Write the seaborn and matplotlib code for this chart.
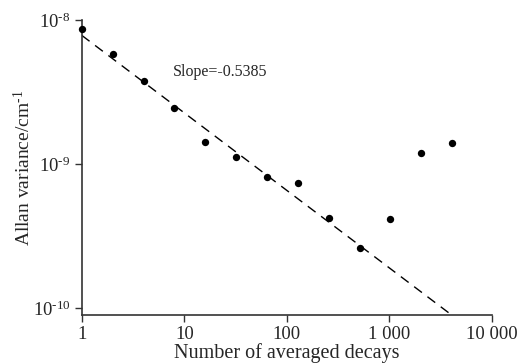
import numpy as np
import pandas as pd
import matplotlib
matplotlib.use("Agg")
import matplotlib.pyplot as plt
import seaborn as sns

# measured Allan variance vs number of averaged decays
n_decays = [1, 2, 4, 8, 16, 32, 64, 128, 256, 512, 1024, 2048, 4096]
allan_var = [8.6e-9, 5.84e-9, 3.79e-9, 2.46e-9, 1.42e-9, 1.11e-9, 8.1e-10,
             7.4e-10, 4.24e-10, 2.62e-10, 4.15e-10, 1.19e-9, 1.39e-9]

# linear fit in log-log space
fit_slope = -0.5385
fit_intercept = 7.82e-9
fit_x = [1, 10000]

x_ticks = [1, 10, 100, 1000, 10000]
x_ticklabels = ["1", "10", "100", "1 000", "10 000"]
y_ticks = [1e-10, 1e-9, 1e-8]
y_ticklabels = [r"10$^{\text{-}10}$", r"10$^{\text{-}9}$", r"10$^{\text{-}8}$"]

sns.set_theme(style="ticks")
plt.rcParams["font.family"] = ["Liberation Serif", "DejaVu Serif"]
plt.rcParams["mathtext.fontset"] = "custom"
plt.rcParams["mathtext.rm"] = "Liberation Serif"
plt.rcParams["mathtext.it"] = "Liberation Serif:italic"

df = pd.DataFrame({"n": n_decays, "var": allan_var})
fit_df = pd.DataFrame({"n": fit_x,
                       "var": [fit_intercept * x ** fit_slope for x in fit_x]})

fig, ax = plt.subplots(figsize=(5.21, 3.64), dpi=100)
fig.subplots_adjust(left=0.157, right=0.944, top=0.945, bottom=0.135)

sns.lineplot(data=fit_df, x="n", y="var", ax=ax, color="black",
             linewidth=1.0, linestyle=(0, (7, 5)))
sns.scatterplot(data=df, x="n", y="var", ax=ax, color="black", s=28,
                edgecolor="black", linewidth=0, zorder=3, clip_on=False)

ax.set_xscale("log")
ax.set_yscale("log")
ax.set_xlim(1, 10000)
ax.set_ylim(0.894e-10, 1e-8)

ax.set_xticks(x_ticks)
ax.set_xticklabels(x_ticklabels)
ax.set_yticks(y_ticks)
ax.set_yticklabels(y_ticklabels)
ax.minorticks_off()
ax.tick_params(axis="both", labelsize=13.5, length=5, width=1.0,
               color="#333333", pad=3)

ax.set_xlabel("Number of averaged decays", fontsize=14.5, labelpad=0)
ax.set_ylabel(r"Allan variance/cm$^{\text{-}1}$", fontsize=14, labelpad=-1)

for side in ("left", "bottom"):
    ax.spines[side].set_color("#333333")
    ax.spines[side].set_linewidth(1.2)
sns.despine(ax=ax)

ax.text(7.7, 4.35e-9, f"Slope={fit_slope}", fontsize=11.5, va="center")

fig.savefig("out.png", dpi=100)
